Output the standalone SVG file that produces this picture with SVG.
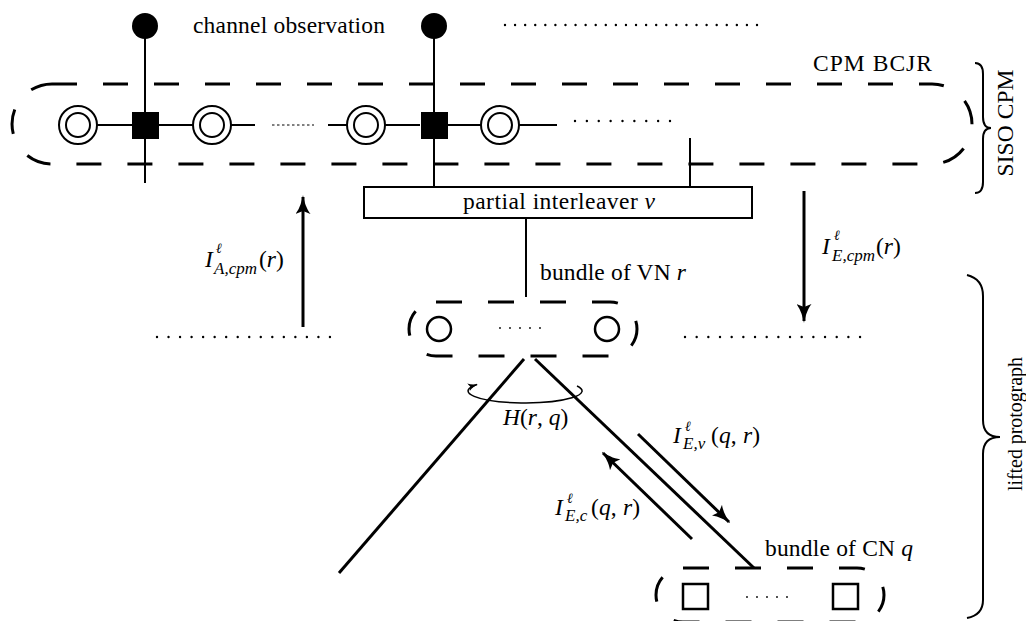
<svg xmlns="http://www.w3.org/2000/svg" width="1026" height="621" viewBox="0 0 1026 621">
<style>
.t{font-family:"Liberation Serif","Times New Roman","DejaVu Serif",serif;font-size:23.5px;fill:#000}
.m{font-style:italic}
.s{font-size:17px}
.sup{font-size:14px;font-style:italic}
.ln{stroke:#000;stroke-width:2;fill:none}
.th{stroke:#000;stroke-width:3;fill:none}
.dash{stroke:#000;stroke-width:3;fill:none;stroke-dasharray:25 26}
.dot{stroke:#000;stroke-width:2.4;stroke-linecap:round;fill:none}
.arr{stroke:#000;stroke-width:3;fill:none;marker-end:url(#ah)}
</style>
<defs>
<marker id="ah" viewBox="0 0 19 15" refX="17" refY="7.5" markerWidth="19" markerHeight="15" orient="auto" markerUnits="userSpaceOnUse">
<path d="M19,7.5 C13,8.5 5,11 0,15 L3,7.5 L0,0 C5,4 13,6.5 19,7.5 Z" fill="#000"/>
</marker>
<marker id="ahs" viewBox="0 0 10 8" refX="9" refY="4" markerWidth="10" markerHeight="8" orient="auto" markerUnits="userSpaceOnUse">
<path d="M10,4 C7,4.5 3,5.5 0,8 L2,4 L0,0 C3,2.5 7,3.5 10,4 Z" fill="#000"/>
</marker>
</defs>
<rect width="1026" height="621" fill="#fff"/>

<g id="connectors">
<line class="ln" x1="145" y1="26" x2="145" y2="183"/>
<line class="ln" x1="434" y1="26" x2="434" y2="187"/>
<line class="ln" x1="690" y1="138" x2="690" y2="187"/>
<line class="ln" x1="97" y1="125" x2="132" y2="125"/>
<line class="ln" x1="159" y1="125" x2="193" y2="125"/>
<line class="ln" x1="231" y1="125" x2="255" y2="125"/>
<line stroke="#000" stroke-width="1" stroke-dasharray="2.5 2.5" x1="272" y1="125" x2="314" y2="125"/>
<line class="ln" x1="328" y1="125" x2="347" y2="125"/>
<line class="ln" x1="385" y1="125" x2="420" y2="125"/>
<line class="ln" x1="448" y1="125" x2="481" y2="125"/>
<line class="ln" x1="519" y1="125" x2="557" y2="125"/>
<line class="dot" stroke-dasharray="0 11.875" x1="575" y1="121" x2="670.5" y2="121"/>
<line class="dot" stroke-dasharray="0 10.08" x1="505" y1="25" x2="757.5" y2="25"/>
<line class="dot" stroke-dasharray="0 11.53" x1="157" y1="337" x2="330.5" y2="337"/>
<line class="dot" stroke-dasharray="0 11.67" x1="685" y1="337" x2="860.5" y2="337"/>
<line class="ln" x1="526" y1="218" x2="526" y2="297"/>
<line class="th" x1="524" y1="359" x2="339" y2="573"/>
<line class="th" x1="535" y1="359" x2="754" y2="568"/>
<line class="arr" x1="303" y1="327" x2="303" y2="197"/>
<line class="arr" x1="804" y1="191" x2="804" y2="321"/>
<line class="arr" x1="638" y1="434" x2="729" y2="522"/>
<line class="arr" x1="692" y1="539" x2="603" y2="453"/>
<path d="M577,386 A57,12 0 1 1 477,384.5" stroke="#000" stroke-width="1.5" fill="none" marker-end="url(#ahs)"/>
</g>

<g id="channel-obs-1"><circle cx="145" cy="26" r="13" fill="#000"/></g>
<g id="channel-obs-2"><circle cx="434" cy="26" r="13" fill="#000"/></g>
<g id="channel-label"><text class="t" x="193" y="33" textLength="192">channel observation</text></g>

<g id="siso-cpm-bcjr">
<path class="dash" d="M52,84 H932 A40,40 0 0 1 932,164 H52 A40,40 0 0 1 52,84 Z"/>
<text class="t" x="813" y="71" textLength="119">CPM BCJR</text>
</g>

<g id="state-1"><circle class="ln" cx="78" cy="125" r="19"/><circle class="ln" cx="78" cy="125" r="12"/></g>
<g id="trellis-1"><rect x="132" y="112" width="27" height="27" fill="#000"/></g>
<g id="state-2"><circle class="ln" cx="212" cy="125" r="19"/><circle class="ln" cx="212" cy="125" r="12"/></g>
<g id="state-3"><circle class="ln" cx="366" cy="125" r="19"/><circle class="ln" cx="366" cy="125" r="12"/></g>
<g id="trellis-2"><rect x="421" y="112" width="27" height="27" fill="#000"/></g>
<g id="state-4"><circle class="ln" cx="500" cy="125" r="19"/><circle class="ln" cx="500" cy="125" r="12"/></g>

<g id="interleaver">
<rect x="364" y="187" width="388" height="31" fill="#fff" stroke="#000" stroke-width="2"/>
<text class="t" x="463" y="209" textLength="192">partial interleaver <tspan class="m">v</tspan></text>
</g>

<g id="label-IA">
<text class="t m" x="205" y="267">I</text>
<text class="t sup" x="216" y="253">ℓ</text>
<text class="t s m" x="214" y="274">A,cpm</text>
<text class="t" x="259" y="267">(<tspan class="m">r</tspan>)</text>
</g>
<g id="label-IEcpm">
<text class="t m" x="822" y="254">I</text>
<text class="t sup" x="834" y="240">ℓ</text>
<text class="t s m" x="832" y="261">E,cpm</text>
<text class="t" x="876" y="254">(<tspan class="m">r</tspan>)</text>
</g>

<g id="vn-bundle">
<path class="dash" style="stroke-dasharray:26 26" d="M436,302 H610 A27,27 0 0 1 610,356 H436 A27,27 0 0 1 436,302 Z"/>
<circle cx="439" cy="329" r="12" fill="none" stroke="#000" stroke-width="2.5"/>
<circle cx="607" cy="329" r="12" fill="none" stroke="#000" stroke-width="2.5"/>
<line stroke="#000" stroke-width="1.8" stroke-linecap="round" stroke-dasharray="0 10" x1="500" y1="328" x2="540.5" y2="328"/>
<text class="t" x="540" y="280" textLength="146">bundle of VN <tspan class="m">r</tspan></text>
</g>

<g id="label-H"><text class="t" x="503" y="425"><tspan class="m">H</tspan>(<tspan class="m">r</tspan>, <tspan class="m">q</tspan>)</text></g>

<g id="label-IEv">
<text class="t m" x="673" y="443">I</text>
<text class="t sup" x="685" y="431">ℓ</text>
<text class="t s m" x="683" y="449">E,v</text>
<text class="t" x="711" y="443" textLength="49">(<tspan class="m">q</tspan>, <tspan class="m">r</tspan>)</text>
</g>
<g id="label-IEc">
<text class="t m" x="555" y="515">I</text>
<text class="t sup" x="567" y="503">ℓ</text>
<text class="t s m" x="565" y="521">E,c</text>
<text class="t" x="591" y="515" textLength="49">(<tspan class="m">q</tspan>, <tspan class="m">r</tspan>)</text>
</g>

<g id="cn-bundle">
<path class="dash" style="stroke-dasharray:26 26" d="M683,568 H857 A27,27 0 0 1 857,622 H683 A27,27 0 0 1 683,568 Z"/>
<rect x="683" y="584" width="25" height="25" fill="none" stroke="#000" stroke-width="2.5"/>
<rect x="833" y="584" width="25" height="25" fill="none" stroke="#000" stroke-width="2.5"/>
<line stroke="#000" stroke-width="1.8" stroke-linecap="round" stroke-dasharray="0 10" x1="747" y1="597" x2="787.5" y2="597"/>
<text class="t" x="765" y="556" textLength="148">bundle of CN <tspan class="m">q</tspan></text>
</g>

<g id="brace-siso">
<path class="ln" stroke-width="2.5" d="M975,63 Q983,63 983,74 L983,117 Q983,128 991,128 Q983,128 983,139 L983,182 Q983,193 975,193"/>
<text class="t" transform="translate(1013,123) rotate(-90)" text-anchor="middle" textLength="107">SISO CPM</text>
</g>
<g id="brace-lifted">
<path class="ln" stroke-width="2.5" d="M967,275 Q983,279 983,296 L983,420 Q983,437 1000,437 Q983,437 983,454 L983,600 Q983,615 967,618"/>
<text class="t" style="font-size:20px" transform="translate(1022,424) rotate(-90)" text-anchor="middle" textLength="134">lifted protograph</text>
</g>
</svg>
